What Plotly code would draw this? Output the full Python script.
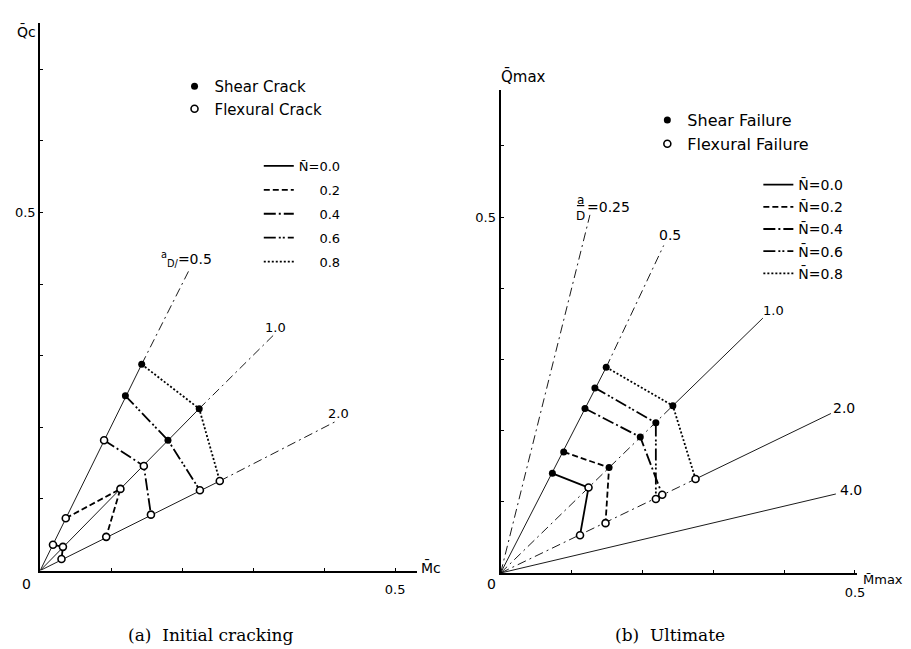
import plotly.graph_objects as go

# ================= DATA =================
N_values = ["0.0", "0.2", "0.4", "0.6", "0.8"]

# ---- panel (a): initial cracking (M̄c, Q̄c); points on rays a/D = 0.5, 1.0, 2.0 ----
a_ray_ratio = ["0.5", "1.0", "2.0"]
a_ray_end_M = [0.209, 0.329, 0.418]
a_ray_end_Q = [0.418, 0.329, 0.209]

a_M_N00 = [0.018, 0.032, 0.030]
a_Q_N00 = [0.036, 0.033, 0.016]
a_kind_N00 = ["F", "F", "F"]
a_M_N02 = [0.036, 0.113, 0.093]
a_Q_N02 = [0.073, 0.114, 0.047]
a_kind_N02 = ["F", "F", "F"]
a_M_N04 = [0.090, 0.146, 0.156]
a_Q_N04 = [0.182, 0.146, 0.078]
a_kind_N04 = ["F", "F", "F"]
a_M_N06 = [0.120, 0.180, 0.225]
a_Q_N06 = [0.244, 0.182, 0.112]
a_kind_N06 = ["S", "S", "F"]
a_M_N08 = [0.143, 0.224, 0.253]
a_Q_N08 = [0.288, 0.226, 0.125]
a_kind_N08 = ["S", "S", "F"]

# ---- panel (b): ultimate (M̄max, Q̄max); points on rays a/D = 0.5, 1.0, 2.0 ----
b_ray_ratio = ["0.25", "0.5", "1.0", "2.0", "4.0"]
b_ray_end_M = [0.126, 0.230, 0.370, 0.466, 0.473]
b_ray_end_Q = [0.503, 0.460, 0.358, 0.224, 0.111]

b_M_N00 = [0.073, 0.124, 0.112]
b_Q_N00 = [0.140, 0.120, 0.053]
b_kind_N00 = ["S", "F", "F"]
b_M_N02 = [0.089, 0.153, 0.148]
b_Q_N02 = [0.170, 0.148, 0.070]
b_kind_N02 = ["S", "S", "F"]
b_M_N04 = [0.119, 0.197, 0.228]
b_Q_N04 = [0.231, 0.191, 0.110]
b_kind_N04 = ["S", "S", "F"]
b_M_N06 = [0.133, 0.219, 0.219]
b_Q_N06 = [0.260, 0.211, 0.104]
b_kind_N06 = ["S", "S", "F"]
b_M_N08 = [0.149, 0.243, 0.275]
b_Q_N08 = [0.289, 0.235, 0.132]
b_kind_N08 = ["S", "S", "F"]

# tick marks (only 0.5 is labelled)
label_tick = [0.5]
label_text = ["0.5"]
a_x_minor = [0.1, 0.2, 0.3, 0.4]
a_y_minor = [0.1, 0.2, 0.3, 0.4, 0.6, 0.7]
b_x_minor = [0.1, 0.2, 0.3, 0.4]
b_y_minor = [0.1, 0.2, 0.3, 0.4, 0.6]

# ================= STYLE / LAYOUT =================
W, H = 911, 649
FONT = "DejaVu Sans"
SERIF = "DejaVu Serif"
N_dash = ["solid", "6px,3px", "12px,3px,2px,3px", "12px,3px,2px,2px,2px,3px", "2px,2px"]
RAY_DASH = "9px,4px,2px,4px"


def px(x):
    return x / W


def py(y):
    return 1 - y / H


a_M = [a_M_N00, a_M_N02, a_M_N04, a_M_N06, a_M_N08]
a_Q = [a_Q_N00, a_Q_N02, a_Q_N04, a_Q_N06, a_Q_N08]
a_K = [a_kind_N00, a_kind_N02, a_kind_N04, a_kind_N06, a_kind_N08]
b_M = [b_M_N00, b_M_N02, b_M_N04, b_M_N06, b_M_N08]
b_Q = [b_Q_N00, b_Q_N02, b_Q_N04, b_Q_N06, b_Q_N08]
b_K = [b_kind_N00, b_kind_N02, b_kind_N04, b_kind_N06, b_kind_N08]

fig = go.Figure()


def add_rays(ray_M, ray_Q, Ms, Qs, ray_index_of_points, inner_styles, outer_styles, xa, ya):
    for r in range(len(ray_M)):
        inner = (0.0, 0.0)
        if r in ray_index_of_points:
            k = ray_index_of_points.index(r)
            best = max(range(len(Ms)), key=lambda i: Ms[i][k] ** 2 + Qs[i][k] ** 2)
            inner = (Ms[best][k], Qs[best][k])
        if inner != (0.0, 0.0):
            fig.add_trace(go.Scatter(x=[0, inner[0]], y=[0, inner[1]], mode="lines",
                                     line=dict(color="black", width=0.9, dash=inner_styles[r]),
                                     showlegend=False, hoverinfo="skip", xaxis=xa, yaxis=ya))
        fig.add_trace(go.Scatter(x=[inner[0], ray_M[r]], y=[inner[1], ray_Q[r]], mode="lines",
                                 line=dict(color="black", width=0.9, dash=outer_styles[r]),
                                 showlegend=False, hoverinfo="skip", xaxis=xa, yaxis=ya))


def add_panel(Ms, Qs, Ks, xa, ya, leg_lines, leg_marks, line_names, shear_name, flex_name, grp):
    for i in range(len(Ms)):
        fig.add_trace(go.Scatter(x=Ms[i], y=Qs[i], mode="lines", name=line_names[i],
                                 line=dict(color="black", width=1.8, dash=N_dash[i]),
                                 legend=leg_lines, legendgroup=f"{grp}{i}",
                                 xaxis=xa, yaxis=ya))
    sx, sy, fx, fy = [], [], [], []
    for i in range(len(Ms)):
        for m, q, k in zip(Ms[i], Qs[i], Ks[i]):
            if k == "S":
                sx.append(m); sy.append(q)
            else:
                fx.append(m); fy.append(q)
    fig.add_trace(go.Scatter(x=sx, y=sy, mode="markers", name=shear_name,
                             marker=dict(symbol="circle", size=7, color="black"),
                             legend=leg_marks, legendgroup=f"{grp}s", xaxis=xa, yaxis=ya))
    fig.add_trace(go.Scatter(x=fx, y=fy, mode="markers", name=flex_name,
                             marker=dict(symbol="circle", size=7, color="white",
                                         line=dict(color="black", width=1.6)),
                             legend=leg_marks, legendgroup=f"{grp}f", xaxis=xa, yaxis=ya))


# panel (a)
add_rays(a_ray_end_M, a_ray_end_Q, a_M, a_Q, [0, 1, 2],
         ["solid"] * 3, [RAY_DASH] * 3, "x", "y")
fs = "\u2007\u2007\u00a0"
add_panel(a_M, a_Q, a_K, "x", "y", "legend2", "legend",
          ["N\u0304=" + N_values[0]] + [fs + v for v in N_values[1:]],
          "Shear Crack", "Flexural Crack", "a")

# panel (b)
add_rays(b_ray_end_M, b_ray_end_Q, b_M, b_Q, [1, 2, 3],
         [RAY_DASH, "solid", RAY_DASH, RAY_DASH, "solid"],
         [RAY_DASH, RAY_DASH, "solid", "solid", "solid"], "x2", "y2")
add_panel(b_M, b_Q, b_K, "x2", "y2", "legend4", "legend3",
          ["N\u0304=" + v for v in N_values],
          "Shear Failure", "Flexural Failure", "b")


def axis(minor_vals, **kw):
    d = dict(showline=True, linecolor="black", linewidth=2, showgrid=False,
             zeroline=False, ticks="inside", ticklen=3, tickwidth=1, tickcolor="black",
             tickvals=label_tick, ticktext=label_text,
             minor=dict(tickvals=minor_vals, ticks="inside", ticklen=3, tickwidth=1,
                        tickcolor="black", showgrid=False),
             tickfont=dict(family=FONT, size=13, color="black"), fixedrange=True)
    d.update(kw)
    return d


fig.update_layout(
    width=W, height=H, margin=dict(l=0, r=0, t=0, b=0),
    paper_bgcolor="white", plot_bgcolor="rgba(0,0,0,0)",
    font=dict(family=FONT, color="black"),
    xaxis=axis(a_x_minor, domain=[px(32.5), px(413)], range=[0, 380.5 / 716], anchor="y",
               ticklabelstandoff=6),
    yaxis=axis(a_y_minor, domain=[py(562.5), py(15)], range=[0, 547.5 / 716], anchor="x"),
    xaxis2=axis(b_x_minor, domain=[px(497), px(857)], range=[0, 360 / 715], anchor="y2",
                ticklabelstandoff=6),
    yaxis2=axis(b_y_minor, domain=[py(565), py(82)], range=[0, 483 / 712], anchor="x2"),
    legend=dict(x=px(168), y=py(62), xanchor="left", yanchor="top", bgcolor="rgba(0,0,0,0)",
                font=dict(family=FONT, size=15), tracegroupgap=0, traceorder="grouped"),
    legend2=dict(x=px(253), y=py(143), xanchor="left", yanchor="top", bgcolor="rgba(0,0,0,0)",
                 font=dict(family=FONT, size=13), tracegroupgap=4, traceorder="grouped"),
    legend3=dict(x=px(645), y=py(95), xanchor="left", yanchor="top", bgcolor="rgba(0,0,0,0)",
                 font=dict(family=FONT, size=16), tracegroupgap=0, traceorder="grouped"),
    legend4=dict(x=px(757), y=py(161), xanchor="left", yanchor="top", bgcolor="rgba(0,0,0,0)",
                 font=dict(family=FONT, size=14), tracegroupgap=1, traceorder="grouped"),
)


def pann(x, y, text, size=14, family=FONT):
    return dict(x=px(x), y=py(y), xref="paper", yref="paper", text=text, showarrow=False,
                xanchor="center", yanchor="middle", font=dict(size=size, family=family))


ann = []
# origin labels
ann.append(dict(x=0, y=0, xref="x", yref="y", text="0", showarrow=False, xanchor="center",
                yanchor="middle", xshift=-14, yshift=-13, font=dict(size=14)))
ann.append(dict(x=0, y=0, xref="x2", yref="y2", text="0", showarrow=False, xanchor="center",
                yanchor="middle", xshift=-9, yshift=-11, font=dict(size=14)))
# axis titles
ann.append(pann(19, 24, "Q\u0304c"))
ann.append(pann(427, 559, "M\u0304c"))
ann.append(pann(520, 68, "Q\u0304max", 15))
ann.append(pann(883, 571, "M\u0304max", 13))
# ray labels, panel (a)
ann.append(dict(x=a_ray_end_M[0], y=a_ray_end_Q[0], xref="x", yref="y",
                text="<sup>a</sup><sub>D/</sub>=" + a_ray_ratio[0], showarrow=False,
                xanchor="center", yanchor="bottom", xshift=-2, font=dict(size=14)))
for r in (1, 2):
    ann.append(dict(x=a_ray_end_M[r], y=a_ray_end_Q[r], xref="x", yref="y", text=a_ray_ratio[r],
                    showarrow=False, xanchor="center", yanchor="bottom", xshift=2, yshift=-2,
                    font=dict(size=13)))
# ray labels, panel (b)
ann.append(dict(x=b_ray_end_M[0], y=b_ray_end_Q[0], xref="x2", yref="y2", text="<u>a</u><br>D",
                showarrow=False, xanchor="center", yanchor="bottom", xshift=-9, yshift=-10,
                font=dict(size=12)))
ann.append(dict(x=b_ray_end_M[0], y=b_ray_end_Q[0], xref="x2", yref="y2", text="=" + b_ray_ratio[0],
                showarrow=False, xanchor="left", yanchor="bottom", xshift=-5, yshift=-2,
                font=dict(size=14)))
ann.append(dict(x=b_ray_end_M[1], y=b_ray_end_Q[1], xref="x2", yref="y2", text=b_ray_ratio[1],
                showarrow=False, xanchor="center", yanchor="bottom", xshift=6, font=dict(size=14)))
ann.append(dict(x=b_ray_end_M[2], y=b_ray_end_Q[2], xref="x2", yref="y2", text=b_ray_ratio[2],
                showarrow=False, xanchor="center", yanchor="bottom", xshift=11, yshift=-2,
                font=dict(size=13)))
ann.append(dict(x=b_ray_end_M[3], y=b_ray_end_Q[3], xref="x2", yref="y2", text=b_ray_ratio[3],
                showarrow=False, xanchor="left", yanchor="bottom", xshift=0, yshift=-4,
                font=dict(size=14)))
ann.append(dict(x=b_ray_end_M[4], y=b_ray_end_Q[4], xref="x2", yref="y2", text=b_ray_ratio[4],
                showarrow=False, xanchor="left", yanchor="middle", xshift=2, yshift=4,
                font=dict(size=14)))
# captions
ann.append(pann(205, 627, "(a)  Initial cracking", 17, SERIF))
ann.append(pann(668, 627, "(b)  Ultimate", 17, SERIF))
fig.update_layout(annotations=ann)

fig.write_html("out.html")
